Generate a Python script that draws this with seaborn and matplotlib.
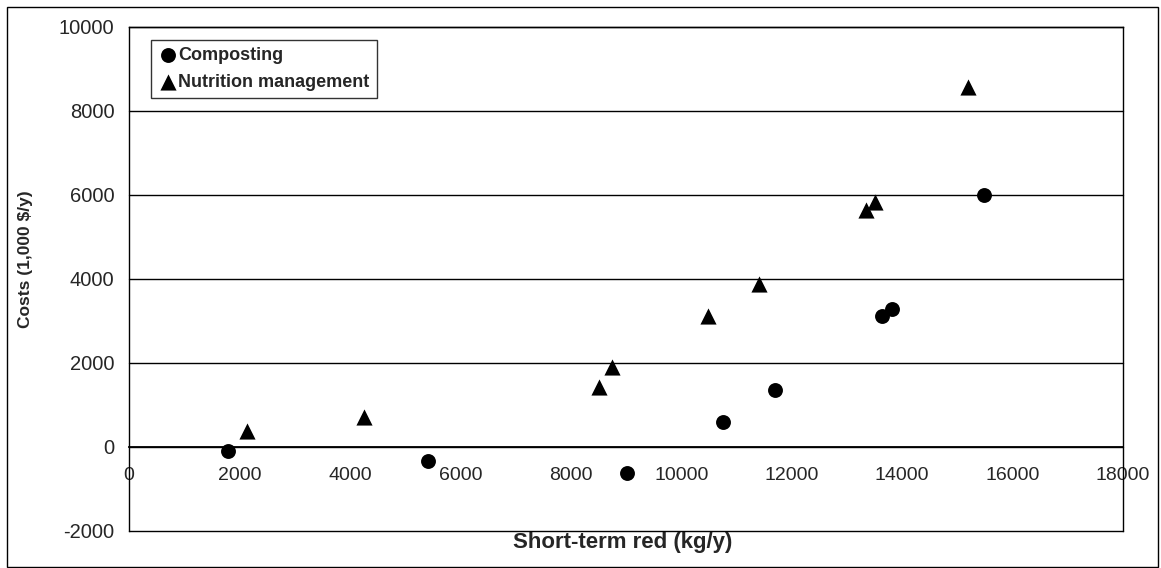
import matplotlib
matplotlib.use("Agg")
import matplotlib.pyplot as plt
import seaborn as sns
import pandas as pd
from matplotlib.patches import Rectangle

# Data
comp_x = [1800, 5410, 9020, 10760, 11690, 13640, 13810, 15480]
comp_y = [-100, -330, -630, 590, 1345, 3110, 3290, 6000]
nutr_x = [2140, 4250, 8505, 8750, 10480, 11410, 13340, 13510, 15200]
nutr_y = [380, 710, 1430, 1905, 3120, 3870, 5630, 5820, 8580]
x_ticks = [0, 2000, 4000, 6000, 8000, 10000, 12000, 14000, 16000, 18000]
y_ticks = [-2000, 0, 2000, 4000, 6000, 8000, 10000]

sns.set_style("white")
plt.rcParams['font.family'] = ['Liberation Sans', 'DejaVu Sans']

W, H = 1161, 568
fig = plt.figure(figsize=(W / 100, H / 100), dpi=100)
ax_l, ax_r, ax_t, ax_b = 129, 1123, 27, 530.6
ax = fig.add_axes([ax_l / W, 1 - ax_b / H, (ax_r - ax_l) / W, (ax_b - ax_t) / H])

df_c = pd.DataFrame({"x": comp_x, "y": comp_y})
df_n = pd.DataFrame({"x": nutr_x, "y": nutr_y})
sns.scatterplot(data=df_c, x="x", y="y", marker="o", s=115, color="black",
                edgecolor="black", linewidth=0, ax=ax, label="Composting", zorder=5)
sns.scatterplot(data=df_n, x="x", y="y", marker="^", s=135, color="black",
                edgecolor="black", linewidth=0, ax=ax, label="Nutrition management", zorder=5)

ax.set_xlim(0, 18000)
ax.set_ylim(-2000, 10000)

for v in y_ticks:
    ax.axhline(v, color="black", linewidth=1.0, zorder=1, clip_on=False)

for s in ["left", "right", "top"]:
    ax.spines[s].set_visible(True)
    ax.spines[s].set_color("black")
    ax.spines[s].set_linewidth(1.0)
ax.spines["bottom"].set_position(("data", 0))
ax.spines["bottom"].set_color("black")
ax.spines["bottom"].set_linewidth(1.3)

ax.set_xticks(x_ticks)
ax.set_yticks(y_ticks)
ax.set_xticklabels([str(v) for v in x_ticks])
ax.set_yticklabels([str(v) for v in y_ticks])
ax.tick_params(axis="x", direction="out", length=3, width=1, color="black",
               pad=11.5, labelsize=14)
ax.tick_params(axis="y", direction="out", length=4.5, width=1, color="black",
               pad=6, labelsize=14.5)

ax.set_xlabel("Short-term red (kg/y)", fontsize=16, fontweight="bold")
ax.xaxis.set_label_coords(0.497, -0.002)
ax.set_ylabel("Costs (1,000 $/y)", fontsize=12.5, fontweight="bold")
ax.yaxis.set_label_coords(-0.097, 0.539)

leg = ax.legend(loc="upper left", bbox_to_anchor=((151 - ax_l) / (ax_r - ax_l), 1 - (40 - ax_t) / (ax_b - ax_t)),
                frameon=True, fancybox=False, shadow=False,
                prop={"size": 13, "weight": "bold"},
                handletextpad=0.0, borderpad=0.4, labelspacing=0.55,
                handlelength=1.1, borderaxespad=0)
leg.get_frame().set_edgecolor("black")
leg.get_frame().set_linewidth(1.0)

fig.patches.append(Rectangle((7 / W, 1 - 567 / H), (1158 - 7) / W, (567 - 7) / H,
                             transform=fig.transFigure, fill=False,
                             edgecolor="black", linewidth=1.0))

fig.savefig("out.png", dpi=100)
